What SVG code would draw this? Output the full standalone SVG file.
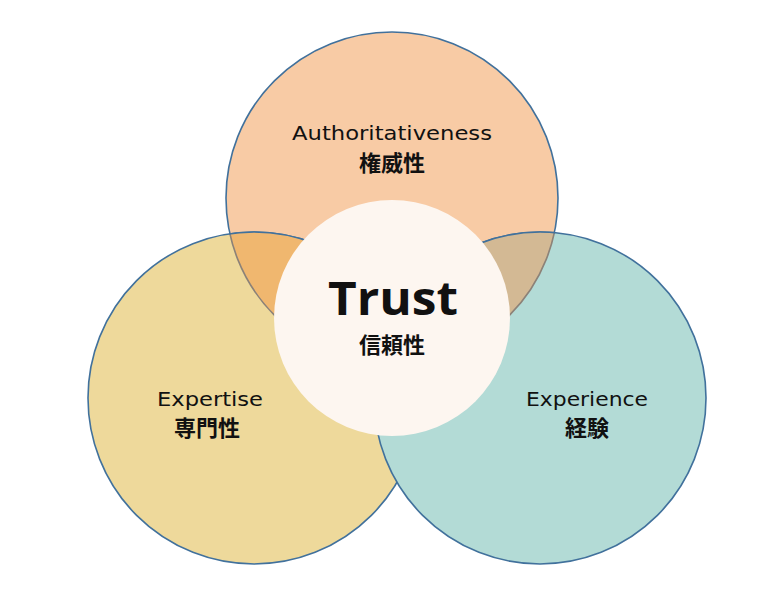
<svg xmlns="http://www.w3.org/2000/svg" width="780" height="600" viewBox="0 0 780 600">
<style>
.edge{stroke:#41719c;stroke-width:1.6}
.ghost{stroke:#8c8278;stroke-width:1.6}
.lat{font-family:"DejaVu Sans","Open Sans","Liberation Sans",sans-serif;fill:#111;text-anchor:middle}
.jp{font-family:"Noto Sans CJK JP","Noto Sans",sans-serif;font-weight:bold;fill:#111;text-anchor:middle}
</style>
<defs>
<clipPath id="cL"><circle cx="254" cy="398" r="166"/></clipPath>
<clipPath id="cR"><circle cx="540" cy="398" r="166"/></clipPath>
<clipPath id="cT"><circle cx="392" cy="198" r="167"/></clipPath>
</defs>
<rect width="780" height="600" fill="#ffffff"/>
<g id="authoritativeness">
<circle cx="392" cy="198" r="166" fill="#f8cba5" class="edge"/>
</g>
<g id="expertise">
<circle cx="254" cy="398" r="166" fill="#eed99b" class="edge"/>
</g>
<g id="experience">
<circle cx="540" cy="398" r="166" fill="#b3dbd6" class="edge"/>
</g>
<g id="overlaps">
<g clip-path="url(#cL)">
<circle cx="392" cy="198" r="166" fill="#f0b76f" class="ghost"/>
</g>
<g clip-path="url(#cR)">
<circle cx="392" cy="198" r="166" fill="#d3b994" class="ghost"/>
</g>
<g clip-path="url(#cT)">
<circle cx="254" cy="398" r="166" fill="none" class="edge"/>
<circle cx="540" cy="398" r="166" fill="none" class="edge"/>
</g>
</g>
<g id="trust">
<circle cx="392" cy="318" r="118" fill="#fdf6f0"/>
</g>
<g id="labels">
<text x="392" y="140" class="lat" font-size="20" textLength="200" lengthAdjust="spacingAndGlyphs">Authoritativeness</text>
<text x="392" y="171" class="jp" font-size="22">権威性</text>
<text x="393" y="315" font-family="'Open Sans','DejaVu Sans',sans-serif" font-weight="bold" fill="#111" text-anchor="middle" font-size="46" textLength="130" lengthAdjust="spacingAndGlyphs">Trust</text>
<text x="392" y="353" class="jp" font-size="22">信頼性</text>
<text x="210" y="406" class="lat" font-size="20" textLength="106" lengthAdjust="spacingAndGlyphs">Expertise</text>
<text x="207" y="436" class="jp" font-size="22">専門性</text>
<text x="587" y="406" class="lat" font-size="20" textLength="122" lengthAdjust="spacingAndGlyphs">Experience</text>
<text x="587" y="436" class="jp" font-size="22">経験</text>
</g>
</svg>
